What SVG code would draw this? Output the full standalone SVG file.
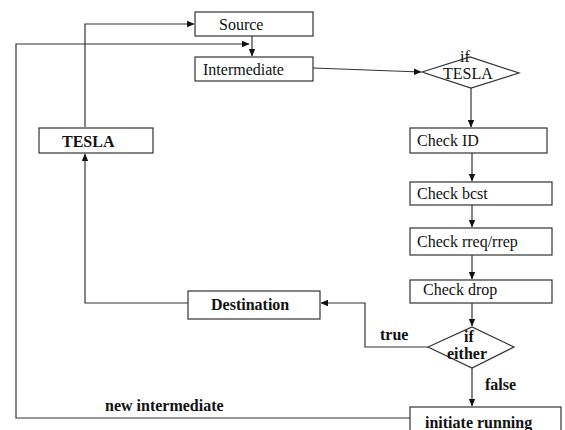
<svg xmlns="http://www.w3.org/2000/svg" width="565" height="430" viewBox="0 0 565 430">
<defs>
<marker id="ah" markerWidth="8" markerHeight="8" refX="7" refY="4" orient="auto" markerUnits="userSpaceOnUse">
<path d="M0,0.8 L7.5,4 L0,7.2 Z" fill="#111"/>
</marker>
<style>
.box{fill:#fff;stroke:#333;stroke-width:1.2}
.ln{fill:none;stroke:#333;stroke-width:1.2}
.t{font-family:"Liberation Serif","Times New Roman",serif;font-size:16px;fill:#111}
.b{font-weight:bold}
</style>
</defs>
<rect width="565" height="430" fill="#fff"/>
<g id="connectors">
<path class="ln" d="M252,36 V56" marker-end="url(#ah)"/>
<path class="ln" d="M85,127 V24 H194" marker-end="url(#ah)"/>
<path class="ln" d="M410,418 H16 V44 H249" marker-end="url(#ah)"/>
<path class="ln" d="M313,68 L421,72" marker-end="url(#ah)"/>
<path class="ln" d="M471,88 V127" marker-end="url(#ah)"/>
<path class="ln" d="M472,153 V181" marker-end="url(#ah)"/>
<path class="ln" d="M472,205 V227" marker-end="url(#ah)"/>
<path class="ln" d="M472,255 V279" marker-end="url(#ah)"/>
<path class="ln" d="M472,303 V326" marker-end="url(#ah)"/>
<path class="ln" d="M472,368 V406" marker-end="url(#ah)"/>
<path class="ln" d="M428,347 H365 V303 H321" marker-end="url(#ah)"/>
<path class="ln" d="M188,303 H85 V154" marker-end="url(#ah)"/>
<text class="t b" x="380" y="340">true</text>
<text class="t b" x="485" y="390">false</text>
<text class="t b" x="105" y="411">new intermediate</text>
</g>
<g id="source"><rect class="box" x="195" y="12" width="118" height="24"/><text class="t" x="219" y="30">Source</text></g>
<g id="intermediate"><rect class="box" x="195" y="57" width="118" height="24"/><text class="t" x="203" y="75">Intermediate</text></g>
<g id="tesla"><rect class="box" x="39" y="128" width="114" height="25"/><text class="t b" x="62" y="147">TESLA</text></g>
<g id="if-tesla"><polygon class="box" points="422,72 470,57 519,73 471,88"/><text class="t" x="460" y="62">if</text><text class="t" x="443" y="79">TESLA</text></g>
<g id="check-id"><rect class="box" x="410" y="128" width="137" height="25"/><text class="t" x="417" y="146">Check ID</text></g>
<g id="check-bcst"><rect class="box" x="410" y="182" width="142" height="23"/><text class="t" x="417" y="199">Check bcst</text></g>
<g id="check-rreq"><rect class="box" x="410" y="228" width="142" height="27"/><text class="t" x="417" y="247">Check rreq/rrep</text></g>
<g id="check-drop"><rect class="box" x="410" y="280" width="142" height="23"/><text class="t" x="423" y="295">Check drop</text></g>
<g id="if-either"><polygon class="box" points="428,347 472,327 514,347 472,368"/><text class="t b" x="464" y="342">if</text><text class="t b" x="447" y="359">either</text></g>
<g id="destination"><rect class="box" x="188" y="291" width="132" height="28"/><text class="t b" x="211" y="310">Destination</text></g>
<g id="initiate-running"><rect class="box" x="410" y="407" width="151" height="30"/><text class="t b" x="425" y="428">initiate running</text></g>
</svg>
